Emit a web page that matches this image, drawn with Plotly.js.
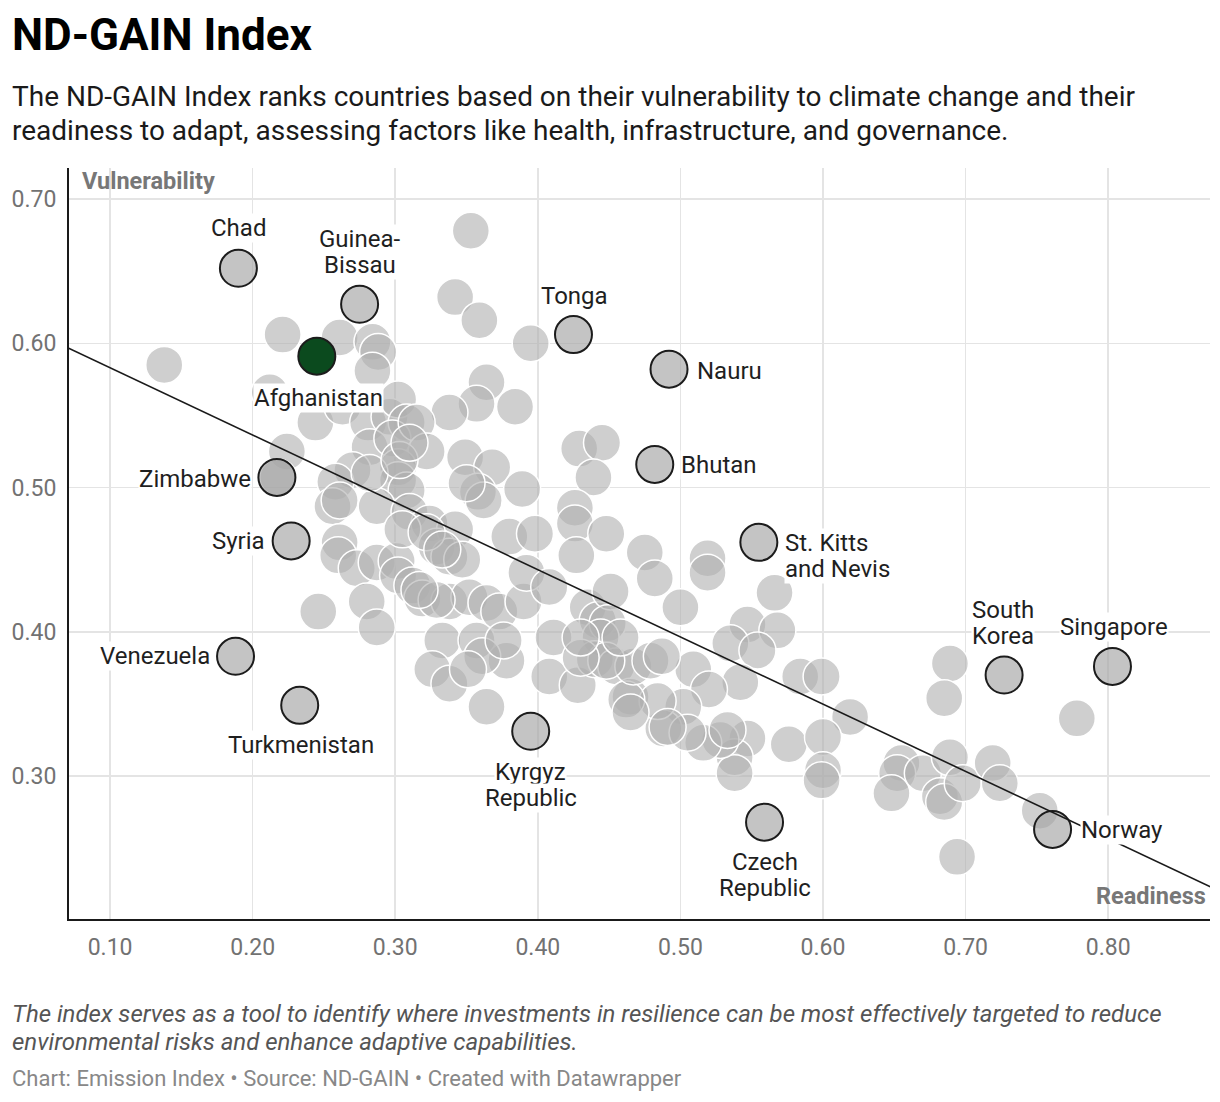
<!DOCTYPE html>
<html>
<head>
<meta charset="utf-8">
<script src="https://cdn.plot.ly/plotly-3.0.1.min.js"></script>
<style>
  html, body { margin: 0; padding: 0; background: #fff; }
  #chart { width: 1220px; height: 1102px; }
</style>
</head>
<body>
<div id="chart"></div>
<script>
// ND-GAIN: readiness (x) vs vulnerability (y), one circle per country

// all other countries (grey)
const readiness = [
  0.138,0.221,0.261,0.284,0.288,0.284,0.212,0.353,0.342,0.359,0.395,0.364,0.357,0.384,0.338,0.244,0.263,0.281,0.296,0.302,
  0.308,0.282,0.298,0.315,0.322,0.302,0.302,0.308,0.287,0.270,0.258,0.256,0.261,0.224,0.218,0.349,0.368,0.358,0.362,0.389,
  0.429,0.445,0.439,0.426,0.426,0.448,0.427,0.380,0.398,0.310,0.324,0.342,0.329,0.338,0.347,0.261,0.260,0.273,0.287,0.301,
  0.302,0.312,0.319,0.280,0.287,0.246,0.338,0.352,0.364,0.373,0.390,0.392,0.408,0.435,0.442,0.451,0.449,0.444,0.475,0.482,
  0.411,0.333,0.357,0.378,0.361,0.326,0.338,0.351,0.408,0.428,0.440,0.455,0.465,0.364,
  0.519,0.519,0.500,0.566,0.547,0.535,0.568,0.554,0.542,0.584,0.599,0.619,0.576,0.600,0.600,0.599,0.547,0.538,0.538,0.528,
  0.516,0.509,0.520,0.502,0.488,0.484,0.462,0.467,0.479,0.487,0.448,0.430,0.430,
  0.458,0.465,0.376,0.329,0.317,0.533,
  0.689,0.685,0.655,0.652,0.648,0.670,0.689,0.682,0.685,0.698,0.719,0.724,0.752,0.694,0.778,
  0.282,0.305,0.322,0.333,0.350,0.303,0.310,0.505,0.491
];
const vulnerability = [
  0.585,0.606,0.604,0.601,0.594,0.581,0.566,0.678,0.632,0.616,0.600,0.573,0.558,0.556,0.552,0.545,0.556,0.545,0.549,0.561,
  0.545,0.528,0.534,0.545,0.525,0.514,0.505,0.498,0.487,0.512,0.504,0.487,0.491,0.525,0.507,0.521,0.514,0.497,0.491,0.499,
  0.527,0.531,0.507,0.486,0.475,0.468,0.453,0.466,0.468,0.483,0.475,0.471,0.459,0.452,0.450,0.462,0.453,0.444,0.448,0.449,
  0.439,0.432,0.423,0.421,0.403,0.414,0.421,0.424,0.420,0.414,0.421,0.441,0.431,0.417,0.408,0.428,0.406,0.396,0.455,0.437,
  0.396,0.394,0.394,0.380,0.383,0.374,0.364,0.374,0.369,0.363,0.381,0.376,0.355,0.348,
  0.451,0.441,0.417,0.427,0.405,0.392,0.401,0.387,0.365,0.369,0.369,0.341,0.322,0.327,0.304,0.297,0.326,0.313,0.302,0.325,
  0.323,0.374,0.360,0.348,0.333,0.352,0.353,0.376,0.380,0.383,0.380,0.382,0.396,
  0.396,0.344,0.394,0.422,0.429,0.332,
  0.378,0.354,0.309,0.302,0.288,0.302,0.313,0.286,0.282,0.295,0.309,0.295,0.276,0.244,0.340,
  0.510,0.471,0.469,0.457,0.503,0.519,0.531,0.330,0.334
];

// labelled countries
const hlNames = ['Chad','Guinea-Bissau','Tonga','Nauru','Bhutan','Zimbabwe','Syria','St. Kitts and Nevis',
  'Venezuela','Turkmenistan','Kyrgyz Republic','Czech Republic','South Korea','Singapore','Norway','Afghanistan'];
const hlLabels = [['Chad'],['Guinea-','Bissau'],['Tonga'],['Nauru'],['Bhutan'],['Zimbabwe'],['Syria'],['St. Kitts','and Nevis'],
  ['Venezuela'],['Turkmenistan'],['Kyrgyz','Republic'],['Czech','Republic'],['South','Korea'],['Singapore'],['Norway'],['Afghanistan']];
const hlReadiness = [0.190,0.275,0.425,0.492,0.482,0.217,0.227,0.555,0.188,0.233,0.395,0.559,0.727,0.803,0.761,0.245];
const hlVulnerability = [0.652,0.627,0.606,0.582,0.516,0.507,0.463,0.462,0.383,0.349,0.331,0.268,0.370,0.376,0.263,0.591];

// regression line
const trendX = [0.07, 0.872];
const trendY = [0.597, 0.223];

const xTicks = [0.1,0.2,0.3,0.4,0.5,0.6,0.7,0.8];
const yTicks = [0.3,0.4,0.5,0.6,0.7];

// label placement: anchor, x offset, y offset of each text line (px, up is positive)
const labelPlace = {
  'Chad':               {xa:'center', xs:0,   ys:[40]},
  'Guinea-Bissau':      {xa:'center', xs:0,   ys:[65, 39]},
  'Tonga':              {xa:'center', xs:1,   ys:[39]},
  'Nauru':              {xa:'left',   xs:27,  ys:[-2]},
  'Bhutan':             {xa:'left',   xs:25,  ys:[-1]},
  'Zimbabwe':           {xa:'right',  xs:-25, ys:[-2]},
  'Syria':              {xa:'right',  xs:-25, ys:[0]},
  'St. Kitts and Nevis':{xa:'left',   xs:25,  ys:[-1, -27]},
  'Venezuela':          {xa:'right',  xs:-25, ys:[0]},
  'Turkmenistan':       {xa:'center', xs:1,   ys:[-40]},
  'Kyrgyz Republic':    {xa:'center', xs:0,   ys:[-41, -67]},
  'Czech Republic':     {xa:'center', xs:0,   ys:[-40, -66]},
  'South Korea':        {xa:'center', xs:-1,  ys:[65, 39]},
  'Singapore':          {xa:'center', xs:2,   ys:[39]},
  'Norway':             {xa:'left',   xs:27,  ys:[-1]},
  'Afghanistan':        {xa:'center', xs:2,   ys:[-42]}
};

const PLOT_L = 69, PLOT_R = 1210, PLOT_T = 168, PLOT_B = 919;
const px = v => (v - PLOT_L) / (PLOT_R - PLOT_L);
const py = v => (PLOT_B - v) / (PLOT_B - PLOT_T);

const traces = [
  {
    x: readiness, y: vulnerability, type: 'scatter', mode: 'markers', hoverinfo: 'skip',
    marker: {size: 37, color: 'rgba(175,175,175,0.6)', line: {color: '#ffffff', width: 1.5}}
  },
  {
    x: hlReadiness, y: hlVulnerability, type: 'scatter', mode: 'markers', hoverinfo: 'skip',
    marker: {
      size: 37,
      color: hlNames.map(n => n === 'Afghanistan' ? '#0b4a1e' : 'rgba(165,165,165,0.65)'),
      line: {color: '#1c1c1c', width: 2}
    }
  },
  {
    x: trendX, y: trendY, type: 'scatter', mode: 'lines', hoverinfo: 'skip',
    line: {color: '#1a1a1a', width: 1.6}
  }
];

const annotations = [];
hlNames.forEach((n, i) => {
  const p = labelPlace[n];
  hlLabels[i].forEach((line, k) => {
    annotations.push({
      x: hlReadiness[i], y: hlVulnerability[i], xref: 'x', yref: 'y',
      text: line, showarrow: false,
      xanchor: p.xa, yanchor: 'middle', xshift: p.xs, yshift: p.ys[k],
      bgcolor: '#ffffff', borderpad: 0,
      font: {family: 'Roboto', size: 24, color: '#1f1f1f'}
    });
  });
});

function textLine(text, x, y, size, color, anchor) {
  return {xref:'paper', yref:'paper', x: px(x), y: py(y), xanchor: anchor || 'left', yanchor:'middle',
    showarrow:false, text: text, font:{family:'Roboto', size: size, color: color}};
}

annotations.push(
  textLine('<b>ND-GAIN Index</b>', 10, 35, 44, '#000'),
  textLine('The ND-GAIN Index ranks countries based on their vulnerability to climate change and their', 10, 97, 28, '#1a1a1a'),
  textLine('readiness to adapt, assessing factors like health, infrastructure, and governance.', 10, 130, 28, '#1a1a1a'),
  textLine('<b>Vulnerability</b>', 80, 181, 23.5, '#777'),
  textLine('<b>Readiness</b>', 1208, 896, 23.5, '#777', 'right'),
  textLine('<i>The index serves as a tool to identify where investments in resilience can be most effectively targeted to reduce</i>', 10, 1014, 24, '#555'),
  textLine('<i>environmental risks and enhance adaptive capabilities.</i>', 10, 1042, 24, '#555'),
  textLine('Chart: Emission Index • Source: ND-GAIN • Created with Datawrapper', 10, 1078, 22, '#888')
);

const layout = {
  width: 1220, height: 1102, autosize: false,
  margin: {l: PLOT_L, r: 1220 - PLOT_R, t: PLOT_T, b: 1102 - PLOT_B, pad: 0},
  paper_bgcolor: '#fff', plot_bgcolor: '#fff',
  showlegend: false,
  font: {family: 'Roboto', color: '#222'},
  xaxis: {
    range: [0.0712, 0.8714], tickvals: xTicks, tickformat: '.2f',
    showgrid: true, gridcolor: '#e4e4e4', gridwidth: 1.5, zeroline: false,
    showline: true, linecolor: '#1a1a1a', linewidth: 2, ticks: '',
    ticklabelstandoff: 6, tickfont: {family: 'Roboto', size: 23, color: '#727272'}
  },
  yaxis: {
    range: [0.2009, 0.7215], tickvals: yTicks, tickformat: '.2f',
    showgrid: true, gridcolor: '#e4e4e4', gridwidth: 1.5, zeroline: false,
    showline: true, linecolor: '#1a1a1a', linewidth: 2, ticks: '',
    ticklabelstandoff: 6, tickfont: {family: 'Roboto', size: 23, color: '#727272'}
  },
  annotations: annotations
};

Plotly.newPlot('chart', traces, layout, {staticPlot: true, displayModeBar: false});
</script>
</body>
</html>
